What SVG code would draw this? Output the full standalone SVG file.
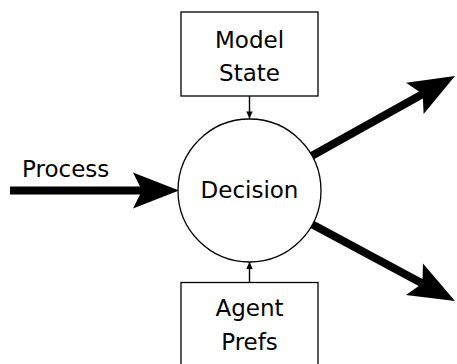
<svg xmlns="http://www.w3.org/2000/svg" width="457" height="364" viewBox="0 0 457 364">
<style>
.box{fill:#fff;stroke:#000;stroke-width:1.3}
.t{font-family:"DejaVu Sans",sans-serif;font-size:23px;fill:#000;text-anchor:middle}
.thick{stroke:#000;stroke-width:8;fill:none}
.thin{stroke:#000;stroke-width:1.4;fill:none}
</style>
<defs>
<marker id="big" markerUnits="userSpaceOnUse" viewBox="-10 -19 48 38" refX="0" refY="0" markerWidth="48" markerHeight="38" orient="auto" overflow="visible">
<path d="M37,0 L-9,-18 L0,0 L-9,18 Z" fill="#000"/>
</marker>
<marker id="small" markerUnits="userSpaceOnUse" viewBox="-8 -4 9 8" refX="0" refY="0" markerWidth="9" markerHeight="8" orient="auto" overflow="visible">
<path d="M0,0 L-7,-3.2 L-7,3.2 Z" fill="#000"/>
</marker>
</defs>
<g id="connectors">
<line class="thick" x1="10" y1="190.5" x2="142" y2="190.5" marker-end="url(#big)"/>
<text class="t" x="22" y="177" style="text-anchor:start">Process</text>
<line class="thick" x1="312" y1="155.7" x2="422.7" y2="94" marker-end="url(#big)"/>
<line class="thick" x1="312.5" y1="224.4" x2="422.4" y2="283.5" marker-end="url(#big)"/>
<line class="thin" x1="249.5" y1="96" x2="249.5" y2="118.5" marker-end="url(#small)"/>
<line class="thin" x1="249.5" y1="282.5" x2="249.5" y2="262" marker-end="url(#small)"/>
</g>
<g id="model-state">
<rect class="box" x="181" y="12" width="137" height="84"/>
<text class="t" x="249.5" y="48">Model</text>
<text class="t" x="249.5" y="81">State</text>
</g>
<g id="decision">
<circle cx="249.5" cy="190.5" r="71.5" fill="#fff" stroke="#000" stroke-width="1.3"/>
<text class="t" x="249.5" y="198">Decision</text>
</g>
<g id="agent-prefs">
<rect class="box" x="181" y="282.5" width="137" height="100"/>
<text class="t" x="249.5" y="316">Agent</text>
<text class="t" x="249.5" y="350">Prefs</text>
</g>
</svg>
